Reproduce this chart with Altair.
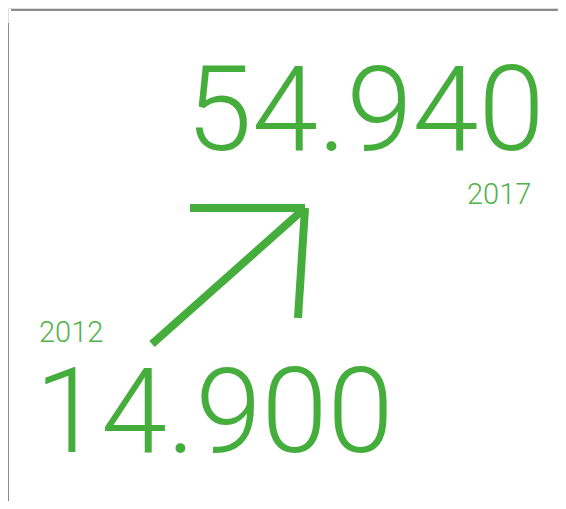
import altair as alt
import pandas as pd

# Data
years = ["2012", "2017"]
values = [14900, 54940]

# Layout (chart pixel coordinates, origin at top-left of plot area)
value_x = [27, 178]
value_y = [444, 142]
year_x = [31, 459]
year_y = [334, 196]

arrow_x = [144, 297, 290]
arrow_y = [336, 200, 310]
arrow_hx = 182

GREEN = "#45ad3b"
GREEN_L = "#52b24a"

W, H = 550, 493
xs = alt.Scale(domain=[0, W], range=[0, W])
ys = alt.Scale(domain=[0, H], range=[0, H])


def fmt(v):
    return f"{v:,}".replace(",", ".")


df = pd.DataFrame({
    "year": years,
    "label": [fmt(v) for v in values],
    "vx": value_x, "vy": value_y,
    "yx": year_x, "yy": year_y,
})

big = alt.Chart(df).mark_text(
    align="left", baseline="alphabetic", font="Roboto", fontWeight=300,
    fontSize=119, color=GREEN
).encode(
    x=alt.X("vx:Q", scale=xs, axis=None),
    y=alt.Y("vy:Q", scale=ys, axis=None),
    text="label:N",
)

small = alt.Chart(df).mark_text(
    align="left", baseline="alphabetic", font="Roboto", fontWeight=300,
    fontSize=29, color=GREEN_L
).encode(
    x=alt.X("yx:Q", scale=xs, axis=None),
    y=alt.Y("yy:Q", scale=ys, axis=None),
    text="year:N",
)

# Arrow: diagonal shaft, horizontal head, vertical head
seg = pd.DataFrame({
    "x": [arrow_x[0], arrow_hx, arrow_x[1]],
    "y": [arrow_y[0], arrow_y[1], arrow_y[1]],
    "x2": [arrow_x[1], arrow_x[1], arrow_x[2]],
    "y2": [arrow_y[1], arrow_y[1], arrow_y[2]],
})
arrow = alt.Chart(seg).mark_rule(color=GREEN, strokeWidth=8, strokeCap="butt").encode(
    x=alt.X("x:Q", scale=xs, axis=None),
    y=alt.Y("y:Q", scale=ys, axis=None),
    x2="x2:Q",
    y2="y2:Q",
)

top_line = alt.Chart(pd.DataFrame({"a": [0]})).mark_rule(color="#8a8a8a", strokeWidth=2).encode(
    x=alt.value(3), x2=alt.value(W + 10), y=alt.value(2)
)
left_line = alt.Chart(pd.DataFrame({"a": [0]})).mark_rule(color="#8a8a8a", strokeWidth=2).encode(
    x=alt.value(0), y=alt.value(15), y2=alt.value(H + 10)
)

chart = alt.layer(top_line, left_line, arrow, big, small).properties(
    width=W, height=H, padding=0, autosize=alt.AutoSizeParams(type="none")
).configure_view(stroke=None).configure(background="white")

chart.save("out.html", embed_options={"renderer": "svg", "actions": False})
